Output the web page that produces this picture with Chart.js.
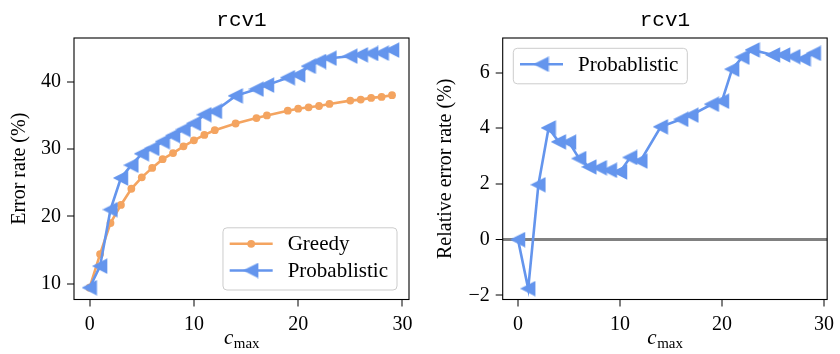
<!DOCTYPE html>
<html>
<head>
<meta charset="utf-8">
<script src="https://cdn.jsdelivr.net/npm/chart.js@4/dist/chart.umd.min.js"></script>
<style>
  body { margin: 0; background: #fff; }
  #wrap { position: relative; width: 840px; height: 354px; }
  canvas { position: absolute; top: 0; }
</style>
</head>
<body>
<div id="wrap">
  <canvas id="errChart" width="420" height="354" style="left:0"></canvas>
  <canvas id="relChart" width="420" height="354" style="left:420px"></canvas>
</div>
<script>
// values
const cmax = [0, 1, 2, 3, 4, 5, 6, 7, 8, 9, 10, 11, 12, 14, 16, 17, 19, 20, 21, 22, 23, 25, 26, 27, 28, 29];
const greedy = [9.4, 14.4, 19.0, 21.7, 24.1, 25.8, 27.2, 28.5, 29.4, 30.4, 31.3, 32.1, 32.8, 33.8,
  34.6, 35.0, 35.7, 36.0, 36.2, 36.4, 36.7, 37.2, 37.35, 37.6, 37.75, 38.0];
const probabilistic = [9.4, 12.6, 21.0, 25.7, 27.6, 29.3, 30.1, 31.1, 32.0, 32.9, 33.8, 35.1, 35.6, 37.9,
  38.9, 39.5, 40.6, 41.0, 42.3, 43.0, 43.5, 43.8, 44.0, 44.2, 44.25, 44.7];
const relative = [0, -1.76, 1.97, 4.01, 3.51, 3.5, 2.91, 2.61, 2.58, 2.49, 2.43, 2.95, 2.82, 4.05,
  4.32, 4.47, 4.86, 4.97, 6.12, 6.55, 6.81, 6.63, 6.63, 6.57, 6.49, 6.69];

const xTicks = [0, 10, 20, 30];
const errTicks = [10, 20, 30, 40];
const relTicks = [-2, 0, 2, 4, 6];

const ORANGE = '#F4A460';
const BLUE = '#6495ED';
const SERIF = '"Liberation Serif", "DejaVu Serif", serif';
const MONO = '"Liberation Mono", "DejaVu Sans Mono", monospace';

// left pointing triangle like matplotlib '<'
function makeTriangle(color) {
  const c = document.createElement('canvas');
  c.width = 16; c.height = 16;
  const g = c.getContext('2d');
  g.fillStyle = color; g.strokeStyle = color; g.lineWidth = 1.5;
  g.beginPath();
  g.moveTo(1.5, 8); g.lineTo(14.5, 1.5); g.lineTo(14.5, 14.5); g.closePath();
  g.fill(); g.stroke();
  return c;
}
const triBlue = makeTriangle(BLUE);

function pts(ys) {
  return cmax.map((x, i) => ({ x: x, y: ys[i] }));
}

function drawLegend(chart, corner) {
  const ctx = chart.ctx, a = chart.chartArea;
  const sets = chart.data.datasets;
  ctx.font = '21px ' + SERIF;
  let maxW = 0;
  sets.forEach(d => { maxW = Math.max(maxW, ctx.measureText(d.label).width); });
  const w = 6.7 + 43 + 15 + maxW + 9;
  const h = 16 + 26.7 * (sets.length - 1) + 19.5;
  let left, top;
  if (corner === 'lower right') { left = a.right - 12 - w; top = a.bottom - 9.5 - h; }
  else { left = a.left + 10.6; top = a.top + 10.3; }

  ctx.save();
  ctx.beginPath();
  ctx.roundRect(left, top, w, h, 4);
  ctx.fillStyle = 'rgba(255,255,255,0.8)';
  ctx.fill();
  ctx.strokeStyle = '#cccccc';
  ctx.lineWidth = 1;
  ctx.stroke();

  sets.forEach((d, i) => {
    const cy = top + 16 + 26.7 * i;
    const x0 = left + 6.7;
    ctx.strokeStyle = d.borderColor;
    ctx.lineWidth = d.borderWidth;
    ctx.beginPath(); ctx.moveTo(x0, cy); ctx.lineTo(x0 + 43, cy); ctx.stroke();
    if (d.pointStyle === 'circle') {
      ctx.fillStyle = d.pointBackgroundColor;
      ctx.beginPath(); ctx.arc(x0 + 21.5, cy, d.pointRadius, 0, Math.PI * 2); ctx.fill();
    } else {
      ctx.drawImage(d.pointStyle, x0 + 21.5 - 8, cy - 8);
    }
    ctx.fillStyle = '#000';
    ctx.textAlign = 'left';
    ctx.textBaseline = 'middle';
    ctx.fillText(d.label, x0 + 43 + 15, cy + 1);
  });
  ctx.restore();
}

const decor = {
  id: 'decor',
  afterDatasetsDraw(chart, args, opts) {
    const ctx = chart.ctx, a = chart.chartArea;
    const cx = (a.left + a.right) / 2;
    ctx.save();
    ctx.strokeStyle = '#000';
    ctx.lineWidth = 1.1;
    ctx.strokeRect(a.left, a.top, a.right - a.left, a.bottom - a.top);

    ctx.fillStyle = '#000';
    ctx.textAlign = 'center';
    ctx.textBaseline = 'alphabetic';
    ctx.font = '21px ' + MONO;
    ctx.fillText(opts.title, cx, a.top - 12);

    // x label: italic c with subscript max
    ctx.font = 'italic 21px ' + SERIF;
    const cw = ctx.measureText('c').width;
    ctx.font = '15px ' + SERIF;
    const mw = ctx.measureText('max').width;
    const sx = cx - (cw + mw) / 2;
    ctx.textAlign = 'left';
    ctx.font = 'italic 21px ' + SERIF;
    ctx.fillText('c', sx, 344);
    ctx.font = '15px ' + SERIF;
    ctx.fillText('max', sx + cw + 0.5, 348);

    // y label
    ctx.translate(opts.yLabelX, (a.top + a.bottom) / 2);
    ctx.rotate(-Math.PI / 2);
    ctx.textAlign = 'center';
    ctx.textBaseline = 'middle';
    ctx.font = '20px ' + SERIF;
    ctx.fillText(opts.yLabel, 0, 0);
    ctx.restore();

    drawLegend(chart, opts.legendAt);
  }
};

function axisOptions(min, max, ticks, size, isY, zeroLine) {
  return {
    type: 'linear',
    min: min,
    max: max,
    afterBuildTicks: s => { s.ticks = ticks.map(v => ({ value: v })); },
    afterFit: s => { if (isY) s.width = size; else s.height = size; },
    ticks: {
      color: '#000',
      padding: 6,
      font: { family: SERIF, size: 20 },
      callback: v => String(v).replace('-', '\u2212')
    },
    grid: {
      drawOnChartArea: !!zeroLine,
      color: c => (zeroLine && c.tick && c.tick.value === 0) ? '#808080' : 'rgba(0,0,0,0)',
      lineWidth: c => (zeroLine && c.tick && c.tick.value === 0) ? 3 : 0,
      tickColor: '#000',
      tickWidth: 1,
      tickLength: 7
    },
    border: { display: false }
  };
}

function baseOptions(padRight, xRange, yAxis, decorOpts) {
  return {
    responsive: false,
    animation: false,
    devicePixelRatio: 1,
    layout: { padding: { left: 0, right: padRight, top: 38, bottom: 0 } },
    scales: {
      x: axisOptions(xRange[0], xRange[1], xTicks, 54.5, false, false),
      y: yAxis
    },
    plugins: {
      legend: { display: false },
      title: { display: false },
      tooltip: { enabled: false },
      decor: decorOpts
    }
  };
}

new Chart(document.getElementById('errChart'), {
  type: 'line',
  data: {
    datasets: [{
      label: 'Greedy',
      data: pts(greedy),
      borderColor: ORANGE,
      borderWidth: 2.6,
      pointStyle: 'circle',
      pointRadius: 3.9,
      pointBackgroundColor: ORANGE,
      pointBorderWidth: 0,
      tension: 0,
      order: 1
    }, {
      label: 'Probablistic',
      data: pts(probabilistic),
      borderColor: BLUE,
      borderWidth: 2.6,
      pointStyle: triBlue,
      pointRadius: 8,
      tension: 0,
      order: 0
    }]
  },
  options: baseOptions(11, [-1.5, 30.63], axisOptions(7.65, 46.5, errTicks, 74, true, false),
    { title: 'rcv1', yLabel: 'Error rate (%)', yLabelX: 20, legendAt: 'lower right' }),
  plugins: [decor]
});

new Chart(document.getElementById('relChart'), {
  type: 'line',
  data: {
    datasets: [{
      label: 'Probablistic',
      data: pts(relative),
      borderColor: BLUE,
      borderWidth: 2.6,
      pointStyle: triBlue,
      pointRadius: 8,
      tension: 0
    }]
  },
  options: baseOptions(5, [-1.5, 30.32], axisOptions(-2.15, 7.24, relTicks, 82.7, true, true),
    { title: 'rcv1', yLabel: 'Relative error rate (%)', yLabelX: 26, legendAt: 'upper left' }),
  plugins: [decor]
});
</script>
</body>
</html>
